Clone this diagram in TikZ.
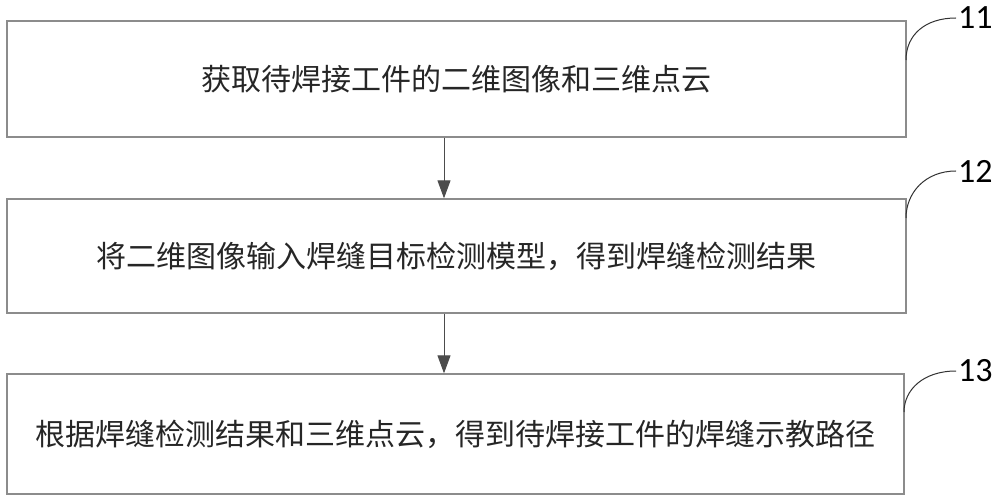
\documentclass[tikz,border=0pt]{standalone}
\usepackage{fontspec}
\setmainfont{Carlito}
\newfontfamily\cjk{Noto Sans CJK SC}
\usetikzlibrary{arrows.meta}
\begin{document}
\begin{tikzpicture}[x=1pt,y=-1pt,
  stepbox/.style={draw=black!45,line width=1.3pt,minimum width=899pt,minimum height=116pt,inner sep=0pt,font=\cjk\fontsize{30pt}{36pt}\selectfont,text=black!85},
  flow/.style={draw=black!70,line width=1pt,-{Triangle[length=18pt,width=13pt]}},
  lead/.style={draw=black!80,line width=1pt},
  num/.style={font=\fontsize{34pt}{38pt}\selectfont,inner sep=2pt,text=black}]
\useasboundingbox (0,0) rectangle (1000,502);
\fill[white] (0,0) rectangle (1000,502);
\node[stepbox] (b1) at (456.5,79) {\raisebox{-8pt}{获取待焊接工件的二维图像和三维点云}};
\node[stepbox,minimum height=114pt] (b2) at (456.5,256) {\raisebox{-4pt}{将二维图像输入焊缝目标检测模型，得到焊缝检测结果}};
\node[stepbox,minimum width=897pt,minimum height=120pt] (b3) at (455.5,434) {\raisebox{-4pt}{根据焊缝检测结果和三维点云，得到待焊接工件的焊缝示教路径}};
\draw[flow] (b1.south -| 444,0) -- (b2.north -| 444,0);
\draw[flow] (b2.south -| 444,0) -- (b3.north -| 444,0);
\node[num,anchor=west] (l1) at (956,18) {11};
\node[num,anchor=west] (l2) at (956,171) {12};
\node[num,anchor=west] (l3) at (956,371) {13};
\coordinate (c1) at (906,60);
\coordinate (c2) at (906,218);
\coordinate (c3) at (904,412);
\draw[lead] (c1) .. controls (906,35) and (925,18) .. (l1.west);
\draw[lead] (c2) .. controls (906,193) and (925,171) .. (l2.west);
\draw[lead] (c3) .. controls (904,390) and (923,371) .. (l3.west);
\end{tikzpicture}
\end{document}
